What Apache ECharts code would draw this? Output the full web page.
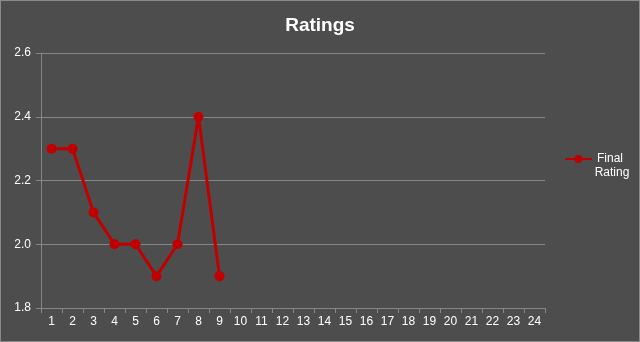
<!DOCTYPE html>
<html><head><meta charset="utf-8">
<script src="https://cdn.jsdelivr.net/npm/echarts@6/dist/echarts.min.js"></script>
<style>html,body{margin:0;padding:0;background:#4d4d4d;}#c{width:640px;height:342px;}</style>
</head><body><div id="c"></div>
<script>
const categories = ['1','2','3','4','5','6','7','8','9','10','11','12','13','14','15','16','17','18','19','20','21','22','23','24'];
const finalRating = [2.3, 2.3, 2.1, 2.0, 2.0, 1.9, 2.0, 2.4, 1.9, null, null, null, null, null, null, null, null, null, null, null, null, null, null, null];
const seriesName = 'Final Rating';
const titleText = 'Ratings';

const chart = echarts.init(document.getElementById('c'));
const font = 'Liberation Sans, Arial, sans-serif';
const words = seriesName.split(' ');
chart.setOption({
  backgroundColor: '#4d4d4d',
  animation: false,
  title: {text: titleText, left: 'center', top: 11, textStyle: {color: '#ffffff', fontSize: 19, fontWeight: 'bold', fontFamily: font}},
  grid: {left: 41, right: 95, top: 53, bottom: 34},
  legend: {
    right: 12, top: 148, orient: 'vertical', itemWidth: 27, itemHeight: 10,
    formatter: () => words[0],
    textStyle: {color: '#ffffff', fontSize: 12, fontFamily: font},
    data: [seriesName]
  },
  graphic: [{
    type: 'text', x: 612, y: 167,
    style: {text: words.slice(1).join(' '), fill: '#ffffff', font: '12px ' + font, textAlign: 'center', textVerticalAlign: 'top'}
  }],
  xAxis: {
    type: 'category', data: categories, boundaryGap: true,
    axisLine: {lineStyle: {color: '#868686'}},
    axisTick: {show: true, length: 5, alignWithLabel: false, lineStyle: {color: '#868686'}},
    axisLabel: {color: '#ffffff', fontSize: 12, fontFamily: font, margin: 8, interval: 0}
  },
  yAxis: {
    type: 'value', min: 1.8, max: 2.6, interval: 0.2,
    axisLine: {show: true, lineStyle: {color: '#868686'}},
    axisTick: {show: true, length: 5, lineStyle: {color: '#868686'}},
    axisLabel: {color: '#ffffff', fontSize: 12, fontFamily: font, margin: 10, formatter: v => v.toFixed(1)},
    splitLine: {lineStyle: {color: '#868686'}}
  },
  series: [{
    name: seriesName, type: 'line', data: finalRating,
    symbol: 'circle', symbolSize: 10, connectNulls: false,
    lineStyle: {color: '#c00000', width: 3},
    itemStyle: {color: '#c00000'}
  }]
});
</script>
<div style="position:absolute;left:0;top:0;width:638px;height:340px;border:1px solid #8a8a8a;pointer-events:none"></div>
</body></html>
